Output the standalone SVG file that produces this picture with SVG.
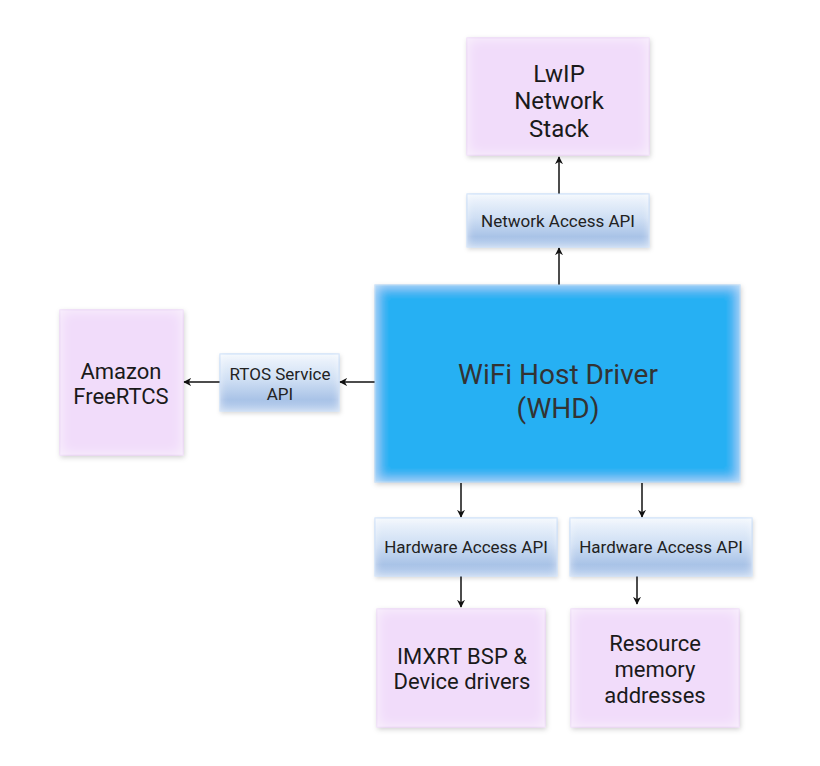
<svg xmlns="http://www.w3.org/2000/svg" width="820" height="766" viewBox="0 0 820 766">
<style>
text{font-family:Roboto,"Liberation Sans",sans-serif;text-anchor:middle;fill:#1a1a1a}
.big{font-size:22px}
.lw{font-size:24px}
.api{font-size:17px;fill:#222}
.whd{font-size:28px;fill:#333}
.purple{fill:#f1dcfa;stroke:#e6c6f4;stroke-width:1}
.apibox{fill:url(#apiGrad);stroke:#b9d3f5;stroke-width:1}
.conn{stroke:#111;stroke-width:1.5;fill:none;marker-end:url(#arr)}
</style>
<defs>
<linearGradient id="apiGrad" x1="0" y1="0" x2="0" y2="1">
<stop offset="0" stop-color="#f2f7fd"/>
<stop offset="0.45" stop-color="#cfdff4"/>
<stop offset="0.8" stop-color="#a9c3e7"/>
<stop offset="1" stop-color="#b9d0ee"/>
</linearGradient>
<filter id="glow" x="-10%" y="-10%" width="120%" height="130%">
<feGaussianBlur in="SourceAlpha" stdDeviation="7" result="blur"/>
<feComposite in="SourceAlpha" in2="blur" operator="arithmetic" k2="1" k3="-1" result="edge"/>
<feFlood flood-color="#ffffff" flood-opacity="0.7"/>
<feComposite in2="edge" operator="in" result="glowc"/>
<feGaussianBlur in="SourceAlpha" stdDeviation="2.5" result="sb"/>
<feOffset in="sb" dx="1" dy="2" result="so"/>
<feFlood flood-color="#000" flood-opacity="0.18"/>
<feComposite in2="so" operator="in" result="shadow"/>
<feMerge><feMergeNode in="shadow"/><feMergeNode in="SourceGraphic"/><feMergeNode in="glowc"/></feMerge>
</filter>
<filter id="glowS" x="-10%" y="-10%" width="120%" height="130%">
<feGaussianBlur in="SourceAlpha" stdDeviation="4" result="blur"/>
<feComposite in="SourceAlpha" in2="blur" operator="arithmetic" k2="1" k3="-1" result="edge"/>
<feFlood flood-color="#ffffff" flood-opacity="0.6"/>
<feComposite in2="edge" operator="in" result="glowc"/>
<feGaussianBlur in="SourceAlpha" stdDeviation="2" result="sb"/>
<feOffset in="sb" dx="1" dy="1.5" result="so"/>
<feFlood flood-color="#000" flood-opacity="0.15"/>
<feComposite in2="so" operator="in" result="shadow"/>
<feMerge><feMergeNode in="shadow"/><feMergeNode in="SourceGraphic"/><feMergeNode in="glowc"/></feMerge>
</filter>
<marker id="arr" viewBox="0 0 10 10" refX="9" refY="5" markerWidth="8" markerHeight="8" markerUnits="userSpaceOnUse" orient="auto">
<path d="M0,0 L10,5 L0,10 L3,5 z" fill="#111"/>
</marker>
</defs>

<g id="connectors">
<line class="conn" x1="559" y1="194" x2="559" y2="157"/>
<line class="conn" x1="559" y1="285" x2="559" y2="248"/>
<line class="conn" x1="375" y1="382" x2="340" y2="382"/>
<line class="conn" x1="220" y1="382" x2="184" y2="382"/>
<line class="conn" x1="461" y1="483" x2="461" y2="517"/>
<line class="conn" x1="642" y1="483" x2="642" y2="517"/>
<line class="conn" x1="461" y1="576" x2="461" y2="607"/>
<line class="conn" x1="637" y1="576" x2="637" y2="604"/>
</g>

<g id="lwip">
<rect class="purple" filter="url(#glow)" x="467" y="38" width="182" height="117"/>
<text class="lw" x="559" y="82">LwIP</text>
<text class="lw" x="559" y="109">Network</text>
<text class="lw" x="559" y="137">Stack</text>
</g>

<g id="network-api">
<rect class="apibox" filter="url(#glowS)" x="467" y="194" width="182" height="53"/>
<text class="api" x="558" y="227">Network Access API</text>
</g>

<g id="whd">
<rect filter="url(#glow)" x="375" y="285" width="365" height="197" fill="#28b0f3" stroke="#9cc8f0" stroke-width="1"/>
<text class="whd" x="558" y="384">WiFi Host Driver</text>
<text class="whd" x="558" y="418">(WHD)</text>
</g>

<g id="rtos-api">
<rect class="apibox" filter="url(#glowS)" x="220" y="354" width="119" height="57"/>
<text class="api" x="280" y="380">RTOS Service</text>
<text class="api" x="280" y="400">API</text>
</g>

<g id="freertos">
<rect class="purple" filter="url(#glow)" x="60" y="310" width="123" height="145"/>
<text class="big" x="121" y="379">Amazon</text>
<text class="big" x="121" y="404">FreeRTCS</text>
</g>

<g id="hw-api-1">
<rect class="apibox" filter="url(#glowS)" x="375" y="518" width="182" height="58"/>
<text class="api" x="466" y="553">Hardware Access API</text>
</g>

<g id="hw-api-2">
<rect class="apibox" filter="url(#glowS)" x="570" y="518" width="182" height="58"/>
<text class="api" x="661" y="553">Hardware Access API</text>
</g>

<g id="imxrt">
<rect class="purple" filter="url(#glow)" x="377" y="609" width="168" height="118"/>
<text class="big" x="462" y="664">IMXRT BSP &amp;</text>
<text class="big" x="462" y="689">Device drivers</text>
</g>

<g id="resource">
<rect class="purple" filter="url(#glow)" x="571" y="609" width="168" height="118"/>
<text class="big" x="655" y="651">Resource</text>
<text class="big" x="655" y="677">memory</text>
<text class="big" x="655" y="703">addresses</text>
</g>
</svg>
